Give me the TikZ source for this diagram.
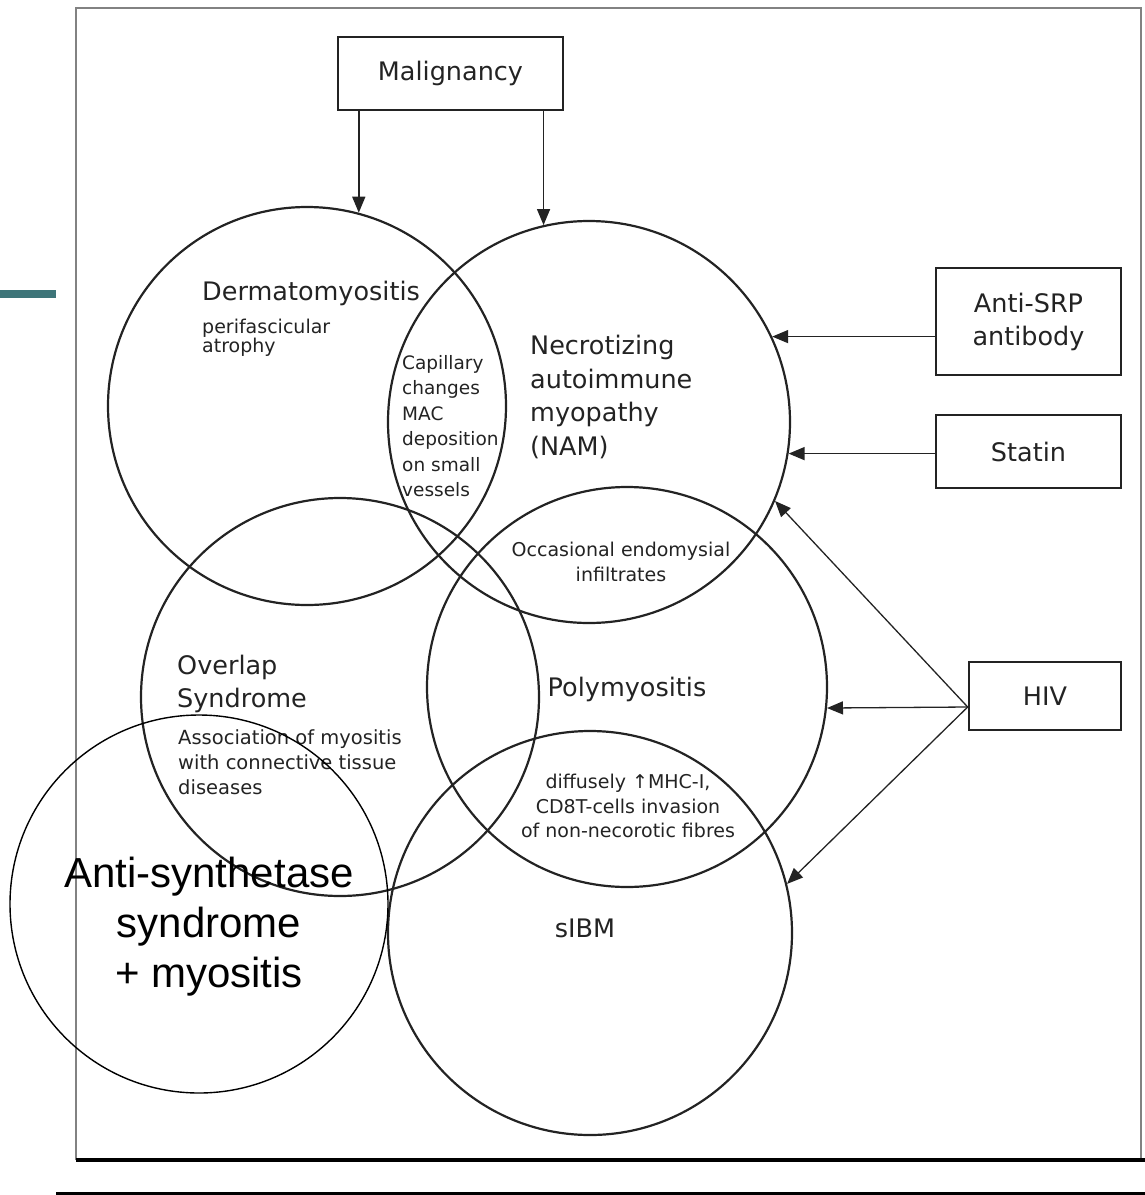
\documentclass[tikz,border=0pt]{standalone}
\usepackage{fontspec}
\setmainfont{DejaVu Sans}
\newfontfamily\arialfont{Liberation Sans}
\usetikzlibrary{arrows.meta,positioning,calc}
\definecolor{ink}{RGB}{35,35,35}
\definecolor{framegray}{RGB}{130,130,130}
\definecolor{slate}{RGB}{62,117,121}

\begin{document}
\begin{tikzpicture}[x=1pt,y=-1pt,
  ring/.style={circle,draw=ink,line width=2.2pt,inner sep=0pt},
  tag/.style={draw=ink,line width=2.6pt,inner sep=0pt,align=center,text=ink,font=\fontsize{25.5}{33}\selectfont},
  big/.style={inner sep=0pt,text=ink,font=\fontsize{25.5}{33.5}\selectfont},
  fine/.style={inner sep=0pt,text=ink,font=\fontsize{19}{25}\selectfont},
  feed/.style={draw=ink,line width=1.5pt,-{Triangle[length=16pt,width=13pt]}}]
        \useasboundingbox (0,0) rectangle (1145,1195);
        \fill[slate] (0,290) rectangle (56,298);
        \draw[framegray,line width=1.8pt] (76,1160) -- (76,8) -- (1141,8) -- (1141,1160);
        \draw[black,line width=3.5pt] (76,1160) -- (1145,1160);
        \draw[black,line width=3pt] (56,1193) -- (1145,1193);

        \node[ring,minimum size=398pt] (dm) at (307,406) {};
        \node[ring,minimum size=402pt] (nam) at (589,422) {};
        \node[ring,minimum size=398pt] (ovl) at (340,697) {};
        \node[ring,minimum size=400pt] (pm) at (627,687) {};
        \node[ring,minimum size=404pt] (sibm) at (590,933) {};

        \node[big,anchor=west] (dmname) at (202,293) {Dermatomyositis};
        \node[fine,anchor=west,align=left,font=\fontsize{19}{19.5}\selectfont] (dmnote) at (202,338) {perifascicular\\atrophy};
        \node[fine,anchor=west,align=left,font=\fontsize{18.5}{25.4}\selectfont] (lens) at (402,426) {Capillary\\changes\\MAC\\deposition\\on small\\vessels};
        \node[big,anchor=west,align=left] (namname) at (530,397) {Necrotizing\\autoimmune\\myopathy\\(NAM)};
        \node[fine,align=center] (endo) at (621,562) {Occasional endomysial\\infiltrates};
        \node[big] (pmname) at (627,689) {Polymyositis};
        \node[fine,align=center,font=\fontsize{19}{24.5}\selectfont] (mhc) at (628,806) {diffusely ↑MHC-I,\\CD8T-cells invasion\\of non-necorotic fibres};
        \node[big,anchor=west,align=left] (ovlname) at (177,684) {Overlap\\Syndrome};
        \node[fine,anchor=west,align=left,font=\fontsize{19.5}{25}\selectfont] (ovlnote) at (178,762) {Association of myositis\\with connective tissue\\diseases};
        \node[big] (sibmname) at (585,928) {sIBM};

        \node[tag,minimum width=225pt,minimum height=73pt] (mal) at (450.5,73.5) {Malignancy};
        \node[tag,minimum width=185pt,minimum height=107pt] (srp) at (1028.5,321.5) {Anti-SRP\\antibody};
        \node[tag,minimum width=185pt,minimum height=73pt] (statin) at (1028.5,451.5) {Statin};
        \node[tag,minimum width=152pt,minimum height=68pt] (hiv) at (1045,696) {HIV};

        \draw[feed] (dm.75 |- mal.south) -- (dm.75);
        \draw[feed] (nam.103 |- mal.south) -- (nam.103);
        \draw[feed] (srp.west |- nam.25) -- (nam.25);
        \draw[feed] (statin.west |- nam.-9) -- (nam.-9);
        \coordinate (hivfoot) at ([yshift=-11pt]hiv.west);
        \foreach \t in {nam.-23,pm.-6,sibm.14} \draw[feed,line width=1.3pt] (hivfoot) -- (\t);

        \node[circle,draw=black,line width=1.4pt,minimum size=378pt,inner sep=0pt] (asyn) at (199,904) {};
        \node[inner sep=0pt,align=center,font=\arialfont\fontsize{42}{50}\selectfont] (asyntext) at (209,927) {Anti-synthetase\\syndrome\\+ myositis};
      \end{tikzpicture}
\end{document}
